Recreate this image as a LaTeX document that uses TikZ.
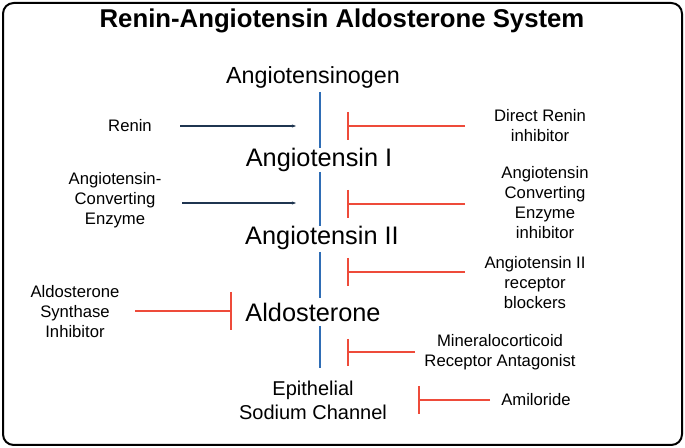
\documentclass[tikz,border=0pt]{standalone}
\usepackage{fontspec}
\setmainfont{Liberation Sans}
\usetikzlibrary{arrows.meta}
\definecolor{axisblue}{HTML}{2F6DB5}
\definecolor{navy}{HTML}{1F3550}
\definecolor{inred}{HTML}{EE4B3A}
\begin{document}
\begin{tikzpicture}[x=0.75pt,y=-0.75pt,
 lab/.style={align=center,font=\fontsize{12.5}{15}\selectfont},
 main/.style={align=center,font=\fontsize{19}{22}\selectfont},
 act/.style={draw=navy,line width=1.4pt,-{Stealth[length=3pt]}},
 inh/.style={draw=inred,line width=1.8pt},
 axis/.style={draw=axisblue,line width=2.2pt}]
\useasboundingbox (0,0) rectangle (685,448);
\draw[line width=1.5pt,rounded corners=8pt] (3,3) rectangle (682,445);
\node[font=\bfseries\fontsize{19.3}{22}\selectfont] (title) at (342,21) {Renin-Angiotensin Aldosterone System};
\node[main,font=\fontsize{17.5}{20}\selectfont] (agt) at (313,77) {Angiotensinogen};
\node[main] (a1) at (319,160) {Angiotensin I};
\node[main] (a2) at (322,238) {Angiotensin II};
\node[main] (ald) at (313,312) {Aldosterone};
\node[lab,font=\fontsize{15}{18}\selectfont] (enac) at (313,400) {Epithelial\\Sodium Channel};
\coordinate (b0) at (320,92); \coordinate (b1) at (320,148);
\coordinate (b2) at (320,172); \coordinate (b3) at (320,226);
\coordinate (b4) at (320,252); \coordinate (b5) at (320,298);
\coordinate (b6) at (320,326); \coordinate (b7) at (320,368);
\draw[axis] (b0)--(b1); \draw[axis] (b2)--(b3); \draw[axis] (b4)--(b5); \draw[axis] (b6)--(b7);
% activators
\node[lab] (renin) at (130,126) {Renin};
\coordinate (r1) at (180,126); \coordinate (r2) at (296,126);
\draw[act] (r1)--(r2);
\node[lab] (ace) at (115,200) {Angiotensin-\\Converting\\Enzyme};
\coordinate (e1) at (182,203); \coordinate (e2) at (296,203);
\draw[act] (e1)--(e2);
% inhibitors
\node[lab] (dri) at (540,126) {Direct Renin\\inhibitor};
\coordinate (i1) at (465,126); \coordinate (i1b) at (348,126);
\draw[inh] (i1)--(i1b); \draw[inh] (348,112)--(348,140);
\node[lab] (acei) at (545,203) {Angiotensin\\Converting\\Enzyme\\inhibitor};
\coordinate (i2) at (465,204); \coordinate (i2b) at (348,204);
\draw[inh] (i2)--(i2b); \draw[inh] (348,190)--(348,218);
\node[lab] (arb) at (535,283) {Angiotensin II\\receptor\\blockers};
\coordinate (i3) at (465,272); \coordinate (i3b) at (348,272);
\draw[inh] (i3)--(i3b); \draw[inh] (348,258)--(348,286);
\node[lab] (asi) at (75,312) {Aldosterone\\Synthase\\Inhibitor};
\coordinate (i4) at (135,311); \coordinate (i4b) at (231,311);
\draw[inh] (i4)--(i4b); \draw[inh] (231,292)--(231,330);
\node[lab] (mra) at (500,352) {Mineralocorticoid\\Receptor Antagonist};
\coordinate (i5) at (415,352); \coordinate (i5b) at (348,352);
\draw[inh] (i5)--(i5b); \draw[inh] (348,339)--(348,366);
\node[lab] (ami) at (536,400) {Amiloride};
\coordinate (i6) at (490,400); \coordinate (i6b) at (419,400);
\draw[inh] (i6)--(i6b); \draw[inh] (419,386)--(419,414);
\end{tikzpicture}
\end{document}
